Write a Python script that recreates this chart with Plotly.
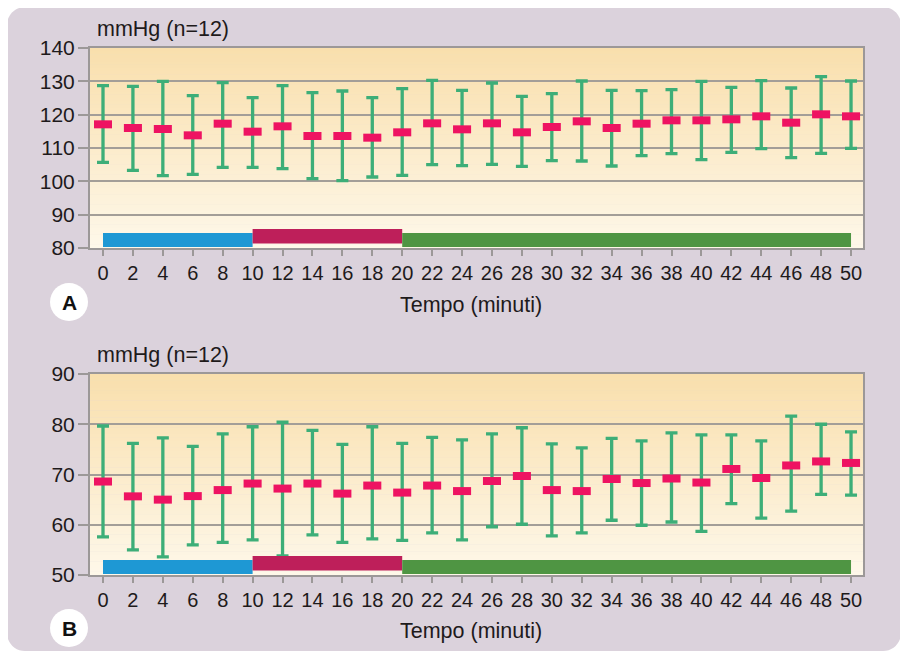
import plotly.graph_objects as go
from plotly.subplots import make_subplots

# ---------------- data ----------------
minutes = [0, 2, 4, 6, 8, 10, 12, 14, 16, 18, 20, 22, 24, 26, 28, 30, 32, 34, 36, 38, 40, 42, 44, 46, 48, 50]

# Panel A (systolic)
sys_mean = [117.1, 116.0, 115.7, 113.8, 117.3, 114.9, 116.5, 113.6, 113.6, 113.1, 114.7, 117.4, 115.6,
            117.4, 114.7, 116.3, 118.0, 116.0, 117.3, 118.3, 118.3, 118.6, 119.5, 117.6, 120.1, 119.5]
sys_upper = [128.7, 128.5, 130.0, 125.7, 129.6, 125.1, 128.7, 126.6, 127.1, 125.1, 127.8, 130.3, 127.3,
             129.5, 125.5, 126.3, 130.1, 127.3, 127.2, 127.5, 130.0, 128.2, 130.2, 128.0, 131.4, 130.1]
sys_lower = [105.7, 103.3, 101.7, 102.1, 104.2, 104.2, 103.8, 100.8, 100.2, 101.3, 101.8, 105.0, 104.7,
             105.1, 104.5, 106.2, 106.1, 104.6, 107.7, 108.3, 106.5, 108.7, 109.8, 107.1, 108.4, 109.9]

# Panel B (diastolic)
dia_mean = [68.6, 65.65, 65.0, 65.7, 66.9, 68.2, 67.2, 68.2, 66.2, 67.8, 66.4, 67.8, 66.7,
            68.7, 69.7, 66.9, 66.7, 69.1, 68.3, 69.2, 68.4, 71.1, 69.3, 71.8, 72.6, 72.3]
dia_upper = [79.65, 76.2, 77.3, 75.6, 78.1, 79.5, 80.4, 78.8, 76.0, 79.5, 76.2, 77.4, 76.9,
             78.1, 79.3, 76.1, 75.3, 77.2, 76.7, 78.3, 77.9, 77.9, 76.7, 81.6, 80.0, 78.5]
dia_lower = [57.6, 55.0, 53.6, 56.0, 56.5, 57.0, 53.8, 58.0, 56.5, 57.2, 56.9, 58.4, 57.0,
             59.6, 60.1, 57.8, 58.4, 60.9, 59.9, 60.55, 58.7, 64.2, 61.3, 62.7, 66.05, 65.9]

# phases (minutes)
phase_start = [0, 10, 20]
phase_end = [10, 20, 50]
phase_colors = ["#1E98D4", "#BE1F5A", "#4F9543"]
phase_raised = [False, True, False]

ya_ticks = [80, 90, 100, 110, 120, 130, 140]
yb_ticks = [50, 60, 70, 80, 90]

panel_labels = ["A", "B"]
y_title = "mmHg (n=12)"
x_title = "Tempo (minuti)"

# ---------------- layout geometry ----------------
# the page body adds an 8px margin, so the figure is 8px smaller and all
# reference pixel positions are shifted by OFF
OFF = 8
W, H = 908 - OFF, 652 - OFF
L, R, T, B = 90 - OFF, 863 - OFF, 48 - OFF, 575 - OFF
FONT = "Liberation Sans, Arial, sans-serif"
TXT = "#1E1A1B"
GREEN = "#3DAE78"
PINK = "#EE1362"
GRID = "#A39E98"
FRAME = "#9C9898"


def px(x):
    return (x - OFF - L) / (R - L)


def py(y):
    return (B - (y - OFF)) / (B - T)


top_dom = [py(248), 1.0]
bot_dom = [0.0, py(374)]

fig = make_subplots(rows=2, cols=1, vertical_spacing=0.1)


def add_panel(row, mean, upper, lower):
    fig.add_trace(go.Scatter(
        x=minutes, y=mean, mode="markers",
        marker=dict(symbol="line-ew", size=12.9, color=PINK,
                    line=dict(color=PINK, width=8)),
        error_y=dict(type="data", symmetric=False,
                     array=[u - m for u, m in zip(upper, mean)],
                     arrayminus=[m - l for m, l in zip(mean, lower)],
                     color=GREEN, thickness=3.3, width=6),
        showlegend=False, hoverinfo="x+y",
    ), row=row, col=1)


add_panel(1, sys_mean, sys_upper, sys_lower)
add_panel(2, dia_mean, dia_upper, dia_lower)

xaxis_common = dict(
    range=[-0.869, 50.80], tickvals=minutes, ticktext=[str(m) for m in minutes],
    ticks="outside", ticklen=6, tickwidth=2, tickcolor=FRAME,
    showline=True, linecolor=FRAME, linewidth=2, mirror=True,
    showgrid=False, zeroline=False,
    tickfont=dict(family=FONT, size=20, color=TXT), ticklabelstandoff=0,
)
yaxis_common = dict(
    ticks="outside", ticklen=10, tickwidth=2, tickcolor=FRAME,
    showline=True, linecolor=FRAME, linewidth=2, mirror=True,
    showgrid=True, gridcolor=GRID, gridwidth=1.5, zeroline=False,
    tickfont=dict(family=FONT, size=21, color=TXT), ticklabelstandoff=-1,
)

fig.update_xaxes(**xaxis_common)
fig.update_layout(
    xaxis=dict(domain=[0, 1]),
    xaxis2=dict(domain=[0, 1]),
    yaxis=dict(domain=top_dom, range=[80, 140], tickvals=ya_ticks, **yaxis_common),
    yaxis2=dict(domain=bot_dom, range=[50, 90], tickvals=yb_ticks, **yaxis_common),
)

shapes = []

# rounded lavender panel behind everything
x0, y0, x1, y1, r = 7, 7, 901, 651, 18
k = 0.55 * r


def P(x, y):
    return f"{px(x):.5f},{py(y):.5f}"


path = (f"M {P(x0 + r, y0)} L {P(x1 - r, y0)} "
        f"C {P(x1 - r + k, y0)} {P(x1, y0 + r - k)} {P(x1, y0 + r)} "
        f"L {P(x1, y1 - r)} "
        f"C {P(x1, y1 - r + k)} {P(x1 - r + k, y1)} {P(x1 - r, y1)} "
        f"L {P(x0 + r, y1)} "
        f"C {P(x0 + r - k, y1)} {P(x0, y1 - r + k)} {P(x0, y1 - r)} "
        f"L {P(x0, y0 + r)} "
        f"C {P(x0, y0 + r - k)} {P(x0 + r - k, y0)} {P(x0 + r, y0)} Z")
shapes.append(dict(type="path", path=path, xref="paper", yref="paper",
                   fillcolor="#DBD2DC", line=dict(width=0), layer="below"))

# vertical gradient inside plot areas (below gridlines)
top_c = (249, 223, 172)
bot_c = (254, 248, 234)
N = 60
for xr, yr in [("x domain", "y domain"), ("x2 domain", "y2 domain")]:
    for i in range(N):
        t = (i + 0.5) / N
        c = tuple(round(bot_c[j] + (top_c[j] - bot_c[j]) * t) for j in range(3))
        shapes.append(dict(type="rect", xref=xr, yref=yr, x0=0, x1=1,
                           y0=i / N, y1=(i + 1) / N + 0.002,
                           fillcolor=f"rgb{c}", line=dict(width=0), layer="below"))

# phase bars
for xr, yr, hpx in [("x", "y domain", 200), ("x2", "y2 domain", 201)]:
    for s, e, col, up in zip(phase_start, phase_end, phase_colors, phase_raised):
        lo = 4.5 if up else 1.0
        hi = 19.0 if up else 15.0
        shapes.append(dict(type="rect", xref=xr, yref=yr, x0=s, x1=e,
                           y0=lo / hpx, y1=hi / hpx, fillcolor=col,
                           line=dict(width=0), layer="above"))

# A / B circles
for cy in [302, 628]:
    rr = 19
    shapes.append(dict(type="circle", xref="paper", yref="paper",
                       x0=px(69 - rr), x1=px(69 + rr), y0=py(cy + rr), y1=py(cy - rr),
                       fillcolor="white", line=dict(width=0), layer="above"))

annotations = []
for lab, cy in zip(panel_labels, [302, 628]):
    annotations.append(dict(text=f"<b>{lab}</b>", x=px(69), y=py(cy), xref="paper", yref="paper",
                            xanchor="center", yanchor="middle", showarrow=False,
                            font=dict(family=FONT, size=21, color="#111111")))
for cy in [29, 355]:
    annotations.append(dict(text=y_title, x=px(95), y=py(cy), xref="paper", yref="paper",
                            xanchor="left", yanchor="middle", showarrow=False,
                            font=dict(family=FONT, size=21.5, color=TXT)))
for cy in [305, 631]:
    annotations.append(dict(text=x_title, x=px(471), y=py(cy), xref="paper", yref="paper",
                            xanchor="center", yanchor="middle", showarrow=False,
                            font=dict(family=FONT, size=21.5, color=TXT)))

fig.update_layout(
    width=W, height=H,
    margin=dict(l=L, r=W - R, t=T, b=H - B, autoexpand=False),
    paper_bgcolor="white", plot_bgcolor="rgba(0,0,0,0)",
    shapes=shapes, annotations=annotations,
    font=dict(family=FONT, color=TXT),
    showlegend=False,
)

fig.write_html("out.html")
